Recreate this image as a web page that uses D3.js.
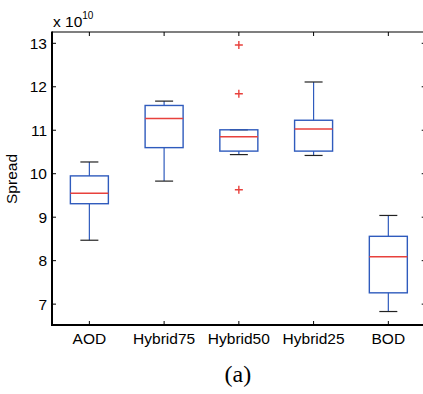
<!DOCTYPE html>
<html>
<head>
<meta charset="utf-8">
<script src="https://cdn.jsdelivr.net/npm/d3@7"></script>
<style>
  body { margin: 0; background: #fff; }
  svg { display: block; font-family: 'Liberation Sans', Arial, sans-serif; }
</style>
</head>
<body>
<svg width="423" height="394"></svg>
<script>
// values in units of 1e10
const groups = ['AOD', 'Hybrid75', 'Hybrid50', 'Hybrid25', 'BOD'];
const whiskerLow = [8.47, 9.83, 10.44, 10.42, 6.83];
const q1 = [9.31, 10.60, 10.52, 10.52, 7.26];
const medians = [9.55, 11.27, 10.85, 11.03, 8.09];
const q3 = [9.95, 11.57, 11.01, 11.23, 8.56];
const whiskerHigh = [10.27, 11.67, 11.01, 12.11, 9.04];
const outliers = [[], [], [12.96, 11.84, 9.63], [], []];
const yTicks = [7, 8, 9, 10, 11, 12, 13];

const blue = '#2f5bbd';
const red = '#e8413c';

const svg = d3.select('svg');
const m = { left: 52, right: 425.7, top: 32, bottom: 325 };

const x = d3.scaleLinear().domain([0.5, 5.5]).range([m.left, m.right]);
const y = d3.scaleLinear().domain([6.52, 13.26]).range([m.bottom, m.top]);

const boxW = 38, capW = 18, tick = 4;
const fs = 15.5;

// frame
svg.append('line').attr('x1', m.left).attr('x2', m.right + 2)
  .attr('y1', m.top).attr('y2', m.top).attr('stroke', '#000').attr('stroke-width', 1.2);
svg.append('line').attr('x1', m.left).attr('x2', m.left)
  .attr('y1', m.top - 0.6).attr('y2', m.bottom + 1).attr('stroke', '#000').attr('stroke-width', 2);
svg.append('line').attr('x1', m.left - 1).attr('x2', m.right + 2)
  .attr('y1', m.bottom).attr('y2', m.bottom).attr('stroke', '#000').attr('stroke-width', 2);

// y ticks (left and right, inward)
yTicks.forEach(t => {
  svg.append('line').attr('x1', m.left).attr('x2', m.left + tick)
    .attr('y1', y(t)).attr('y2', y(t)).attr('stroke', '#000');
  svg.append('line').attr('x1', m.right - tick).attr('x2', m.right)
    .attr('y1', y(t)).attr('y2', y(t)).attr('stroke', '#000');
  svg.append('text').attr('x', m.left - 5).attr('y', y(t) + 5.5)
    .attr('text-anchor', 'end').attr('font-size', fs).text(t);
});

// x ticks (top and bottom, inward)
groups.forEach((g, i) => {
  const cx = x(i + 1);
  svg.append('line').attr('x1', cx).attr('x2', cx)
    .attr('y1', m.top).attr('y2', m.top + tick).attr('stroke', '#000');
  svg.append('line').attr('x1', cx).attr('x2', cx)
    .attr('y1', m.bottom - tick).attr('y2', m.bottom).attr('stroke', '#000');
  svg.append('text').attr('x', cx).attr('y', 343.5)
    .attr('text-anchor', 'middle').attr('font-size', fs).text(g);
});

// boxes
groups.forEach((g, i) => {
  const cx = x(i + 1);
  const gEl = svg.append('g');
  // whisker stems
  gEl.append('line').attr('x1', cx).attr('x2', cx)
    .attr('y1', y(q3[i])).attr('y2', y(whiskerHigh[i])).attr('stroke', blue).attr('stroke-width', 1.2);
  gEl.append('line').attr('x1', cx).attr('x2', cx)
    .attr('y1', y(q1[i])).attr('y2', y(whiskerLow[i])).attr('stroke', blue).attr('stroke-width', 1.2);
  // caps
  [whiskerLow[i], whiskerHigh[i]].forEach(v => {
    gEl.append('line').attr('x1', cx - capW / 2).attr('x2', cx + capW / 2)
      .attr('y1', y(v)).attr('y2', y(v)).attr('stroke', '#222').attr('stroke-width', 1.2);
  });
  gEl.append('rect').attr('x', cx - boxW / 2).attr('width', boxW)
    .attr('y', y(q3[i])).attr('height', y(q1[i]) - y(q3[i]))
    .attr('fill', 'none').attr('stroke', blue).attr('stroke-width', 1.4);
  gEl.append('line').attr('x1', cx - boxW / 2).attr('x2', cx + boxW / 2)
    .attr('y1', y(medians[i])).attr('y2', y(medians[i])).attr('stroke', red).attr('stroke-width', 1.4);
  outliers[i].forEach(v => {
    gEl.append('path')
      .attr('d', `M${cx - 4},${y(v)}H${cx + 4}M${cx},${y(v) - 4}V${y(v) + 4}`)
      .attr('stroke', red).attr('stroke-width', 1.4);
  });
});

// exponent label
const ex = svg.append('text').attr('x', 53).attr('y', 27).attr('font-size', fs);
ex.append('tspan').text('x 10');
ex.append('tspan').attr('dy', -8).attr('font-size', 10).text('10');

// y label
svg.append('text')
  .attr('transform', 'translate(17,179) rotate(-90)')
  .attr('text-anchor', 'middle').attr('font-size', fs).text('Spread');

// caption
svg.append('text').attr('x', (m.left + m.right) / 2 - 1).attr('y', 382)
  .attr('text-anchor', 'middle').attr('font-size', 24)
  .attr('font-family', "'Liberation Serif', 'Times New Roman', serif").text('(a)');
</script>
</body>
</html>
